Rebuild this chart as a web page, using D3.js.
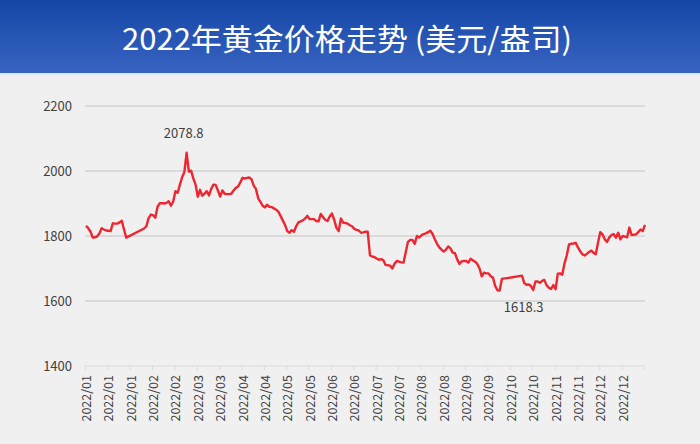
<!DOCTYPE html>
<html>
<head>
<meta charset="utf-8">
<script src="https://cdn.jsdelivr.net/npm/d3@7"></script>
<style>
  html, body { margin: 0; padding: 0; background: #f0f0f0; }
  svg { display: block; }
  text { font-family: "Noto Sans CJK SC", "Noto Sans", sans-serif; }
</style>
</head>
<body>
<svg id="chart" width="700" height="444"></svg>
<script>
// ---------------- DATA ----------------
const titleText = "2022年黄金价格走势 (美元/盎司)";

const xLabels = [
  "2022/01","2022/01","2022/01","2022/02","2022/02","2022/03","2022/03",
  "2022/04","2022/04","2022/05","2022/05","2022/06","2022/06","2022/07",
  "2022/07","2022/08","2022/08","2022/09","2022/09","2022/10","2022/10",
  "2022/11","2022/11","2022/12","2022/12"
];

const yTicks = [1400, 1600, 1800, 2000, 2200];

// daily gold price (USD/oz); null = no quote (holiday)
const prices = [
  1831,1824,1814,1795,1796,1799,1808,1824,1820,1817,
  1816,1815,1839,1838,1838,1842,1847,1820,1795,null,
  null,null,null,null,null,null,1823,1830,1855,1866,
  1864,1856,1890,1901,1901,1900,1902,1907,1893,1906,
  1938,1933,1958,1981,1997,2056,1998,2001,1977,1958,
  1921,1942,1924,1930,1938,1925,1945,1958,1957,1940,
  1921,1940,1930,1929,1929,1930,1940,1948,1952,1965,
  1979,1977,1979,1980,1975,1955,1945,1916,1905,1893,
  1888,1896,1890,1889,1885,1881,1875,1862,1848,1834,
  1815,1810,1818,1813,1830,1842,1845,1848,1854,1862,
  1852,1852,1852,1846,1845,1868,1858,1850,1846,1860,
  1869,1850,1825,1815,1854,1841,1840,1838,1833,1830,
  1822,1819,1817,1810,1811,1813,1813,1740,1737,1735,
  1731,1727,1729,1725,1711,1710,1709,1700,1715,1723,
  1721,1719,1718,1750,1782,1788,1788,1776,1800,1795,
  1802,1806,1808,1812,1816,1806,1790,1776,1765,1758,
  1752,1758,1768,1762,1749,1747,1728,1714,1722,1723,
  1723,1718,1730,1725,1721,1714,1700,1676,1687,1685,
  1685,1676,1672,1646,1633,1632,1668,null,null,null,
  null,null,null,null,null,1678,1655,1650,1651,1646,
  1634,1660,1660,1656,1662,1665,1648,1641,1637,1649,
  1636,1684,1685,1681,1716,1740,1774,1776,1777,1779,
  1765,1753,1744,1740,1745,1751,1755,1748,1744,1780,
  1812,1805,1790,1782,1795,1803,1806,1795,1810,1790,
  1800,1798,1796,1826,1803,1804,1805,1812,1820,1815,
  1834
];

const labelStep = 10;                 // one category label every 10 points
const annoIndex = [45, 185];          // points that carry a value note
const annoText  = ["2078.8", "1618.3"];

// ---------------- DRAW ----------------
const svg = d3.select("#chart");

const defs = svg.append("defs");
const grad = defs.append("linearGradient").attr("id", "hdr")
  .attr("x1", 0).attr("y1", 0).attr("x2", 0).attr("y2", 1);
grad.append("stop").attr("offset", "0%").attr("stop-color", "#1546a6");
grad.append("stop").attr("offset", "100%").attr("stop-color", "#3864c1");

svg.append("rect").attr("x", 0).attr("y", 0).attr("width", 700).attr("height", 444)
  .attr("fill", "#f0f0f0");
svg.append("rect").attr("x", 0).attr("y", 0).attr("width", 700).attr("height", 73)
  .attr("fill", "url(#hdr)");
svg.append("rect").attr("x", 0).attr("y", 73).attr("width", 700).attr("height", 2)
  .attr("fill", "#dde8f5");

svg.append("text")
  .attr("x", 347).attr("y", 50)
  .attr("text-anchor", "middle")
  .attr("fill", "#ffffff")
  .attr("font-size", 30)
  .attr("textLength", 450)
  .attr("lengthAdjust", "spacingAndGlyphs")
  .text(titleText);

// scales
const idx = d3.range(prices.length);
const x = d3.scalePoint().domain(idx).range([86, 645]);
const y = d3.scaleLinear().domain([1400, 2200]).range([366, 106]);

// gridlines
svg.append("g").selectAll("line")
  .data(yTicks.filter(v => v !== 1400))
  .join("line")
  .attr("x1", 85).attr("x2", 645)
  .attr("y1", d => y(d)).attr("y2", d => y(d))
  .attr("stroke", "#d3d3d3").attr("stroke-width", 1.4);

// y axis labels
const yAxis = d3.axisLeft(y).tickValues(yTicks).tickFormat(d3.format("d"))
  .tickSize(0).tickPadding(0);
const gy = svg.append("g").attr("transform", "translate(72,0)").call(yAxis);
gy.select(".domain").remove();
gy.selectAll("text")
  .attr("font-size", 13)
  .attr("fill", "#404040")
  .attr("font-family", "\"Noto Sans CJK SC\", \"Noto Sans\", sans-serif");

// bottom category axis line + ticks
svg.append("line")
  .attr("x1", 85).attr("x2", 645).attr("y1", y(1400)).attr("y2", y(1400))
  .attr("stroke", "#dadada").attr("stroke-width", 1.2);

const tickIdx = idx.filter(i => i % labelStep === 0);
svg.append("g").selectAll("line")
  .data(tickIdx)
  .join("line")
  .attr("x1", d => x(d) - 0.5).attr("x2", d => x(d) - 0.5)
  .attr("y1", y(1400)).attr("y2", y(1400) + 4)
  .attr("stroke", "#dadada").attr("stroke-width", 1);

// category labels (rotated)
svg.append("g").selectAll("text")
  .data(xLabels)
  .join("text")
  .attr("transform", (d, i) => `translate(${x(i * labelStep) + 0.5},${y(1400) + 9}) rotate(-90)`)
  .attr("text-anchor", "end")
  .attr("dy", "0.36em")
  .attr("font-size", 12.5)
  .attr("fill", "#404040")
  .text(d => d);

// price line (connect across missing quotes)
const pts = idx.filter(i => prices[i] != null).map(i => [i, prices[i]]);
svg.append("path")
  .datum(pts)
  .attr("fill", "none")
  .attr("stroke", "#ee2630")
  .attr("stroke-width", 2.4)
  .attr("stroke-linejoin", "round")
  .attr("d", d3.line().x(d => x(d[0])).y(d => y(d[1])));

// value notes
const annoOffsets = [[-3, -15], [24, 21]];
svg.append("g").selectAll("text")
  .data(annoIndex)
  .join("text")
  .attr("x", (d, i) => x(d) + annoOffsets[i][0])
  .attr("y", (d, i) => y(prices[d]) + annoOffsets[i][1])
  .attr("text-anchor", "middle")
  .attr("font-size", 13)
  .attr("fill", "#404040")
  .text((d, i) => annoText[i]);
</script>
</body>
</html>
